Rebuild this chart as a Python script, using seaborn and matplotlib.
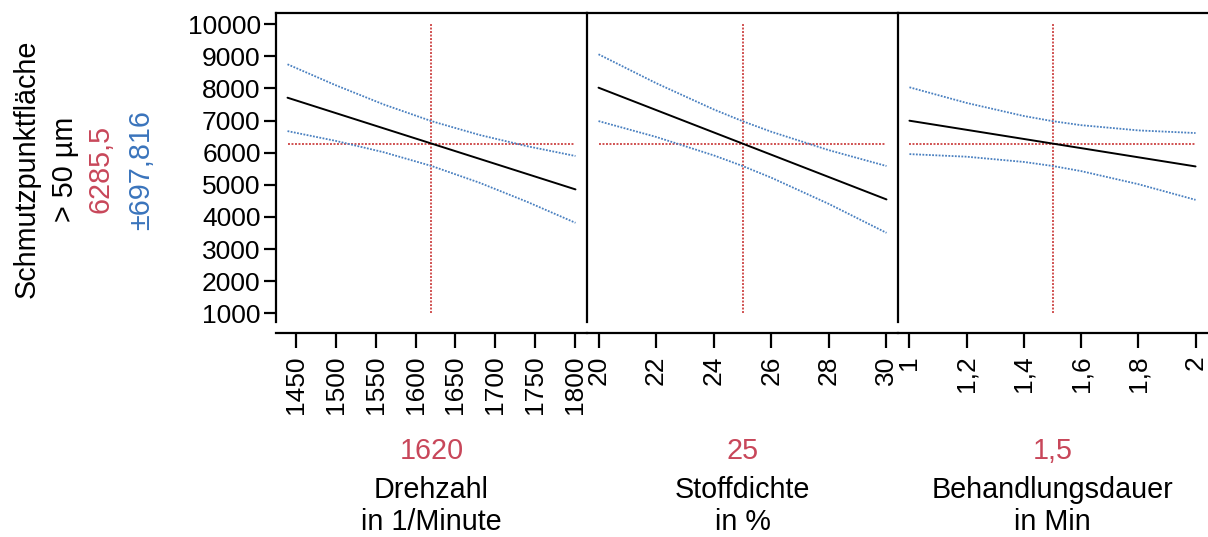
import matplotlib
matplotlib.use("Agg")
import matplotlib.pyplot as plt
from matplotlib.ticker import FixedLocator, FixedFormatter
import numpy as np
import pandas as pd
import seaborn as sns

# ---- response: Schmutzpunktfläche > 50 µm, at current factor settings ----
response_value = 6285.5
response_ci = 697.816

# ---- factor 1: Drehzahl (1/min) ----
drehzahl_x = [1440, 1500, 1560, 1620, 1680, 1740, 1800]
drehzahl_pred = [7713, 7237, 6761, 6285.5, 5810, 5334, 4858]
drehzahl_upper = [8753, 8104, 7505, 6983, 6554, 6201, 5898]
drehzahl_lower = [6673, 6370, 6017, 5588, 5066, 4467, 3818]
drehzahl_setting = 1620
drehzahl_ticks = [1450, 1500, 1550, 1600, 1650, 1700, 1750, 1800]
drehzahl_ticklabels = ["1450", "1500", "1550", "1600", "1650", "1700", "1750", "1800"]

# ---- factor 2: Stoffdichte (%) ----
stoff_x = [20, 22, 24, 25, 26, 28, 30]
stoff_pred = [8025, 7329, 6633, 6285.5, 5938, 5242, 4546]
stoff_upper = [9065, 8166, 7348, 6983, 6653, 6079, 5586]
stoff_lower = [6985, 6492, 5918, 5588, 5223, 4405, 3506]
stoff_setting = 25
stoff_ticks = [20, 22, 24, 26, 28, 30]
stoff_ticklabels = ["20", "22", "24", "26", "28", "30"]

# ---- factor 3: Behandlungsdauer (min) ----
dauer_x = [1.0, 1.2, 1.4, 1.5, 1.6, 1.8, 2.0]
dauer_pred = [6997, 6713, 6428, 6285.5, 6143, 5858, 5573]
dauer_upper = [8037, 7550, 7143, 6983, 6858, 6695, 6613]
dauer_lower = [5957, 5876, 5713, 5588, 5428, 5021, 4533]
dauer_setting = 1.5
dauer_ticks = [1.0, 1.2, 1.4, 1.6, 1.8, 2.0]
dauer_ticklabels = ["1", "1,2", "1,4", "1,6", "1,8", "2"]

y_ticks = [1000, 2000, 3000, 4000, 5000, 6000, 7000, 8000, 9000, 10000]
y_ticklabels = [str(v) for v in y_ticks]

setting_labels = ["1620", "25", "1,5"]
factor_names = ["Drehzahl", "Stoffdichte", "Behandlungsdauer"]
factor_units = ["in 1/Minute", "in %", "in Min"]

sns.set_style("white")
plt.rcParams["font.family"] = ["Liberation Sans", "DejaVu Sans"]
plt.rcParams["text.color"] = "black"
plt.rcParams["xtick.color"] = "black"
plt.rcParams["ytick.color"] = "black"
plt.rcParams["xtick.labelcolor"] = "black"
plt.rcParams["ytick.labelcolor"] = "black"

RED = "#C8475A"
BLUE = "#3A74BC"
LINE_RED = "#D05050"
LINE_BLUE = "#4A80C0"
TICK_FS = 19
LABEL_FS = 20.7

W, H = 1208, 537
fig = plt.figure(figsize=(W / 100, H / 100), dpi=100)

panel_px = [(276, 311), (587, 311), (898, 309)]
top_px, bottom_px = 13, 322

factors = [
    (drehzahl_x, drehzahl_pred, drehzahl_upper, drehzahl_lower, drehzahl_setting,
     drehzahl_ticks, drehzahl_ticklabels),
    (stoff_x, stoff_pred, stoff_upper, stoff_lower, stoff_setting,
     stoff_ticks, stoff_ticklabels),
    (dauer_x, dauer_pred, dauer_upper, dauer_lower, dauer_setting,
     dauer_ticks, dauer_ticklabels),
]

dotted = (0, (1, 0.8))

for i, (xs, pred, up, lo, setting, ticks, ticklabels) in enumerate(factors):
    left, width = panel_px[i]
    ax = fig.add_axes([left / W, 1 - bottom_px / H, width / W, (bottom_px - top_px) / H])
    df = pd.DataFrame({"x": xs, "pred": pred, "upper": up, "lower": lo})

    xmin, xmax = min(xs), max(xs)
    pad = 0.04 * (xmax - xmin)
    ax.set_xlim(xmin - pad, xmax + pad)
    ax.set_ylim(730, 10350)

    sns.lineplot(data=df, x="x", y="upper", ax=ax, color=LINE_BLUE, lw=1.3,
                 linestyle=dotted, sort=False)
    sns.lineplot(data=df, x="x", y="lower", ax=ax, color=LINE_BLUE, lw=1.3,
                 linestyle=dotted, sort=False)
    ax.hlines(response_value, xmin, xmax, color=LINE_RED, lw=1.4, linestyle=dotted, zorder=1)
    ax.vlines(setting, 1000, 10000, color=LINE_RED, lw=1.4, linestyle=dotted, zorder=1)
    sns.lineplot(data=df, x="x", y="pred", ax=ax, color="black", lw=1.4, sort=False)

    ax.set_xlabel("")
    ax.set_ylabel("")
    ax.xaxis.set_major_locator(FixedLocator(ticks))
    ax.xaxis.set_major_formatter(FixedFormatter(ticklabels))
    ax.tick_params(axis="x", direction="out", length=11, width=1.6, pad=5,
                   labelsize=TICK_FS, labelrotation=90, bottom=True, color="black")

    for side in ["top", "bottom", "left", "right"]:
        ax.spines[side].set_color("black")
        ax.spines[side].set_linewidth(1.6)
    ax.spines["right"].set_visible(False)
    ax.spines["bottom"].set_position(("outward", 8))

    if i == 0:
        ax.yaxis.set_major_locator(FixedLocator(y_ticks))
        ax.yaxis.set_major_formatter(FixedFormatter(y_ticklabels))
        ax.tick_params(axis="y", direction="out", length=9, width=1.6, pad=2,
                       labelsize=TICK_FS, left=True, color="black")
    else:
        ax.set_yticks([])

    cx = (left + width / 2) / W
    fig.text(cx, 1 - 451 / H, setting_labels[i], color=RED, fontsize=LABEL_FS,
             ha="center", va="center")
    fig.text(cx, 1 - 490 / H, factor_names[i], color="black", fontsize=LABEL_FS,
             ha="center", va="center")
    fig.text(cx, 1 - 522 / H, factor_units[i], color="black", fontsize=LABEL_FS,
             ha="center", va="center")

# response labels, stacked vertically to the left of the first panel
fig.text(27 / W, 1 - 169 / H, "Schmutzpunktfläche", rotation=90, fontsize=LABEL_FS,
         ha="center", va="center")
fig.text(65 / W, 1 - 169 / H, "> 50 µm", rotation=90, fontsize=LABEL_FS,
         ha="center", va="center")
fig.text(101 / W, 1 - 169 / H, "6285,5", rotation=90, fontsize=LABEL_FS, color=RED,
         ha="center", va="center")
fig.text(141 / W, 1 - 170 / H, "±697,816", rotation=90, fontsize=LABEL_FS, color=BLUE,
         ha="center", va="center")

fig.savefig("out.png", dpi=100, facecolor="white")
